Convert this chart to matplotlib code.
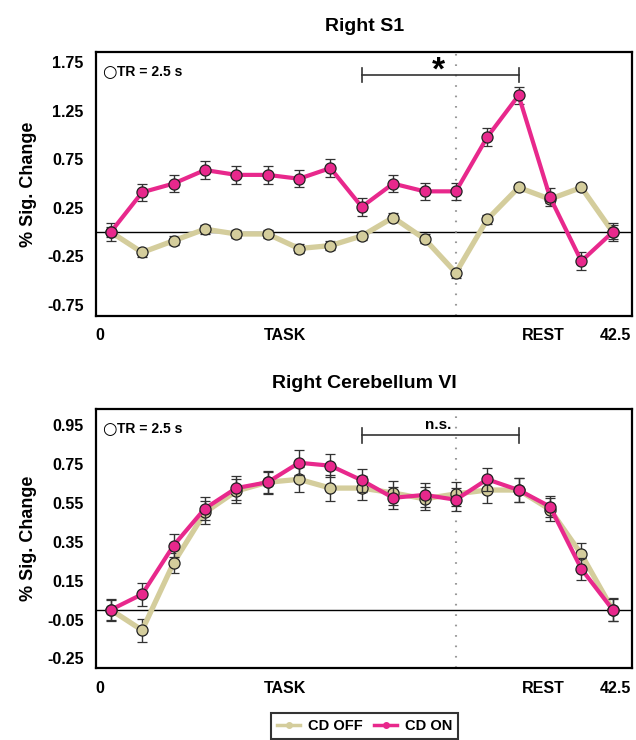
import matplotlib
matplotlib.use("Agg")
import matplotlib.pyplot as plt
from matplotlib.lines import Line2D
import numpy as np

plt.rcParams['font.family'] = ['Liberation Sans', 'DejaVu Sans']
plt.rcParams['font.weight'] = 'bold'

# ---- data ----
tr_index = list(range(17))

s1_off = [0.0, -0.21, -0.09, 0.03, -0.02, -0.02, -0.17, -0.14, -0.04, 0.15, -0.07, -0.42, 0.13, 0.46, 0.34, 0.46, 0.0]
s1_off_err = [0.05, 0.045, 0.045, 0.045, 0.045, 0.045, 0.045, 0.045, 0.045, 0.045, 0.045, 0.05, 0.045, 0.04, 0.045, 0.04, 0.07]
s1_on = [0.0, 0.41, 0.50, 0.64, 0.59, 0.59, 0.55, 0.66, 0.26, 0.50, 0.42, 0.42, 0.98, 1.41, 0.36, -0.30, 0.0]
s1_on_err = [0.09, 0.09, 0.09, 0.09, 0.09, 0.09, 0.09, 0.09, 0.09, 0.09, 0.09, 0.09, 0.09, 0.09, 0.09, 0.09, 0.09]

cb_off = [0.0, -0.105, 0.24, 0.50, 0.61, 0.655, 0.67, 0.625, 0.625, 0.60, 0.57, 0.595, 0.615, 0.615, 0.515, 0.285, 0.0]
cb_off_err = [0.05, 0.06, 0.05, 0.06, 0.06, 0.06, 0.065, 0.065, 0.06, 0.06, 0.06, 0.06, 0.065, 0.06, 0.06, 0.06, 0.06]
cb_on = [0.0, 0.08, 0.33, 0.52, 0.625, 0.655, 0.755, 0.74, 0.665, 0.575, 0.59, 0.565, 0.67, 0.615, 0.53, 0.21, 0.0]
cb_on_err = [0.055, 0.06, 0.06, 0.06, 0.06, 0.055, 0.065, 0.06, 0.06, 0.055, 0.06, 0.06, 0.06, 0.06, 0.055, 0.055, 0.055]

xtick_pos = [-0.34, 5.56, 13.8, 16.1]
xtick_labels = ['0', 'TASK', 'REST', '42.5']

s1_yticks = [-0.75, -0.25, 0.25, 0.75, 1.25, 1.75]
cb_yticks = [-0.25, -0.05, 0.15, 0.35, 0.55, 0.75, 0.95]

titles = ['Right S1', 'Right Cerebellum VI']
series_names = ['CD OFF', 'CD ON']
sig_labels = ['*', 'n.s.']
bracket_span = [8, 13]
rest_onset = 11

off_color = '#D4CD9C'
on_color = '#E8288C'
err_color = '#333333'

fig = plt.figure(figsize=(6.36, 7.40), dpi=100)
ax1 = fig.add_axes([0.151, 0.573, 0.843, 0.357])
ax2 = fig.add_axes([0.151, 0.097, 0.843, 0.350])

panels = [
    (ax1, s1_off, s1_off_err, s1_on, s1_on_err, s1_yticks, (-0.866, 1.86), 1.62, 0.072),
    (ax2, cb_off, cb_off_err, cb_on, cb_on_err, cb_yticks, (-0.30, 1.03), 0.897, 0.038),
]

for i, (ax, off, off_e, on, on_e, yt, ylim, by, bt) in enumerate(panels):
    ax.axhline(0, color='black', lw=1.0, zorder=1)
    ax.axvline(rest_onset, color='#999999', lw=1.5, ls=(0, (0.8, 4.2)), zorder=1)
    ax.errorbar(tr_index, off, yerr=off_e, color=off_color, lw=3.8,
                marker='o', ms=8, mfc=off_color, mec='#222222', mew=0.9,
                ecolor=err_color, elinewidth=1.0, capsize=3.5, capthick=1.0, zorder=3)
    ax.errorbar(tr_index, on, yerr=on_e, color=on_color, lw=3.0,
                marker='o', ms=8, mfc=on_color, mec='#222222', mew=0.9,
                ecolor=err_color, elinewidth=1.0, capsize=3.5, capthick=1.0, zorder=4)
    ax.set_xlim(-0.47, 16.62)
    ax.set_ylim(*ylim)
    ax.set_yticks(yt)
    ax.set_yticklabels([f'{v:.2f}' for v in yt], fontsize=11.5, fontweight='bold')
    ax.set_xticks(xtick_pos)
    ax.set_xticklabels(xtick_labels, fontsize=11.5, fontweight='bold')
    ax.tick_params(axis='both', length=0, pad=9)
    for sp in ax.spines.values():
        sp.set_linewidth(1.6)
        sp.set_color('black')
    ax.set_ylabel('% Sig. Change', fontsize=13, fontweight='bold', labelpad=7)
    ax.set_title(titles[i], fontsize=14, fontweight='bold', pad=15)
    # significance bracket
    x0, x1 = bracket_span
    ax.plot([x0, x1], [by, by], color=err_color, lw=1.2, zorder=2)
    ax.plot([x0, x0], [by - bt, by + bt], color=err_color, lw=1.2, zorder=2)
    ax.plot([x1, x1], [by - bt, by + bt], color=err_color, lw=1.2, zorder=2)
    if sig_labels[i] == '*':
        ax.text((x0 + x1) / 2 - 0.05, by - 0.12, '*', ha='center', va='bottom',
                fontsize=24, fontweight='bold')
    else:
        ax.text((x0 + x1) / 2 - 0.05, by + 0.015, 'n.s.', ha='center', va='bottom',
                fontsize=11, fontweight='bold')
    ax.text(0.012, 0.925, '\u25CB', transform=ax.transAxes, ha='left', va='center',
            fontsize=12, fontweight='bold', family=['DejaVu Sans'])
    ax.text(0.040, 0.925, 'TR = 2.5 s', transform=ax.transAxes, ha='left', va='center',
            fontsize=10, fontweight='bold')

proxies = [Line2D([], [], color=off_color, lw=2.5, marker='o', ms=4, mec=off_color),
           Line2D([], [], color=on_color, lw=2.5, marker='o', ms=4, mec=on_color)]
leg = fig.legend(proxies, series_names, loc='upper center', bbox_to_anchor=(0.573, 0.0365),
                 ncol=2, frameon=True, fancybox=False, edgecolor='black',
                 prop={'weight': 'bold', 'size': 10.5}, handlelength=1.6, columnspacing=0.8,
                 handletextpad=0.5, borderpad=0.4, borderaxespad=0.0)
leg.get_frame().set_linewidth(1.5)

fig.savefig('out.png', dpi=100)
